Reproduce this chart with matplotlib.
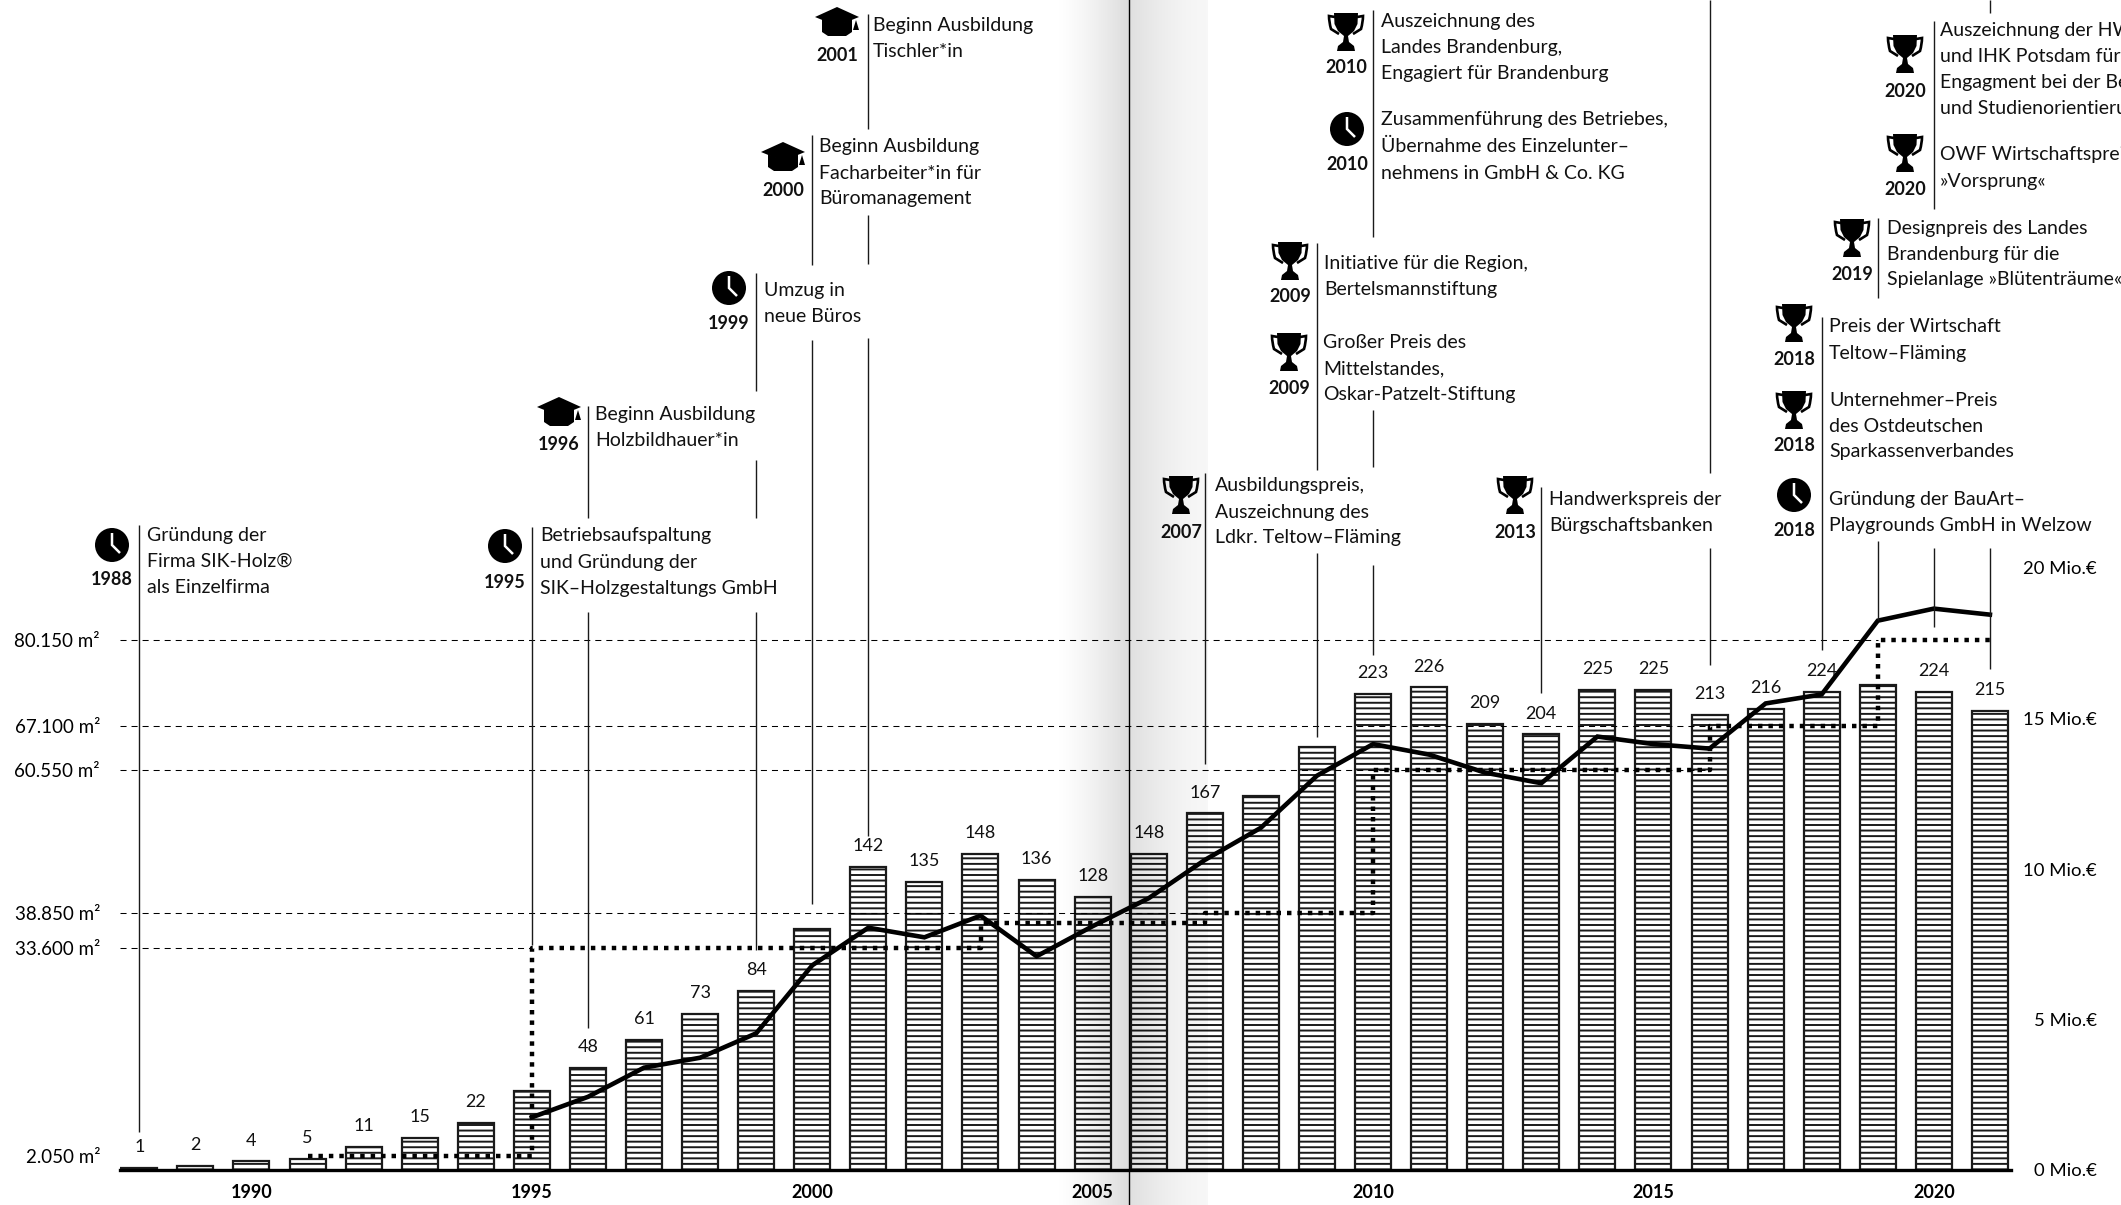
import numpy as np
import matplotlib
matplotlib.use("Agg")
import matplotlib.pyplot as plt
from matplotlib.patches import Circle, PathPatch, Polygon
from matplotlib.path import Path

W, H = 2121, 1205
DPI = 100

plt.rcParams["font.family"] = ["Lato", "DejaVu Sans"]
plt.rcParams["hatch.linewidth"] = 1.4

years = list(range(1988, 2022))
employees = [1, 2, 4, 5, 11, 15, 22, 37, 48, 61, 73, 84, 113, 142, 135, 148, 136,
             128, 148, 167, 175, 198, 223, 226, 209, 204, 225, 225, 213, 216, 224,
             227, 224, 215]
# the picture prints no number over these bars
unlabeled_years = [1995, 2000, 2008, 2009, 2019]

revenue_years = list(range(1995, 2022))
revenue = [1.75, 2.43, 3.4, 3.73, 4.54, 6.8, 8.05, 7.73, 8.45, 7.1, 8.1, 9.03, 10.3,
           11.37, 13.1, 14.15, 13.8, 13.2, 12.85, 14.4, 14.15, 14.0, 15.5, 15.8,
           18.25, 18.65, 18.45]
revenue_ticks = [0, 5, 10, 15, 20]

area_years = [1991, 1995, 2003, 2007, 2010, 2016, 2019, 2021]
area = [2050, 33600, 37400, 38850, 60550, 67100, 80150, 80150]
area_ticks = [2050, 33600, 38850, 60550, 67100, 80150]
area_tick_labels = ["2.050 m²", "33.600 m²", "38.850 m²", "60.550 m²", "67.100 m²", "80.150 m²"]
# (area value, year where the dashed guide stops)
area_guides = [(33600, 1995), (38850, 2007), (60550, 2016), (67100, 2016), (80150, 2019)]

year_ticks = [1990, 1995, 2000, 2005, 2010, 2015, 2020]

# pixel layout of the plot
X0, DX = 139.3, 56.08
BASE = 1170
LEFT, RIGHT, TOP = 120, 2011, 400
PX_EMP, PX_REV, PX_AREA = 2.135, 30.1, 0.006613


def year_px(year):
    return X0 + (year - 1988) * DX


def px_year(px):
    return 1988 + (px - X0) / DX


fig = plt.figure(figsize=(W / DPI, H / DPI), dpi=DPI, facecolor="white")
ax = fig.add_axes([LEFT / W, 1 - BASE / H, (RIGHT - LEFT) / W, (BASE - TOP) / H])
ax.set_xlim(px_year(LEFT), px_year(RIGHT))
ax.set_ylim(0, (BASE - TOP) / PX_EMP)
ax.patch.set_alpha(0)

ax.bar(years, employees, width=36 / DX, facecolor="white", edgecolor="#1a1a1a",
       linewidth=1.6, hatch="---", zorder=2)
for y, v in zip(years, employees):
    if y not in unlabeled_years:
        ax.annotate(str(v), (y, v), xytext=(0, 15), textcoords="offset points",
                    ha="center", va="center", fontsize=13, color="#111")

for side in ["top", "left", "right"]:
    ax.spines[side].set_visible(False)
ax.spines["bottom"].set_linewidth(2.4)
ax.spines["bottom"].set_zorder(5)
ax.set_yticks([])
ax.set_xticks(year_ticks)
ax.set_xticklabels([str(y) for y in year_ticks], fontweight="bold", fontsize=13)
ax.tick_params(axis="x", length=0, pad=10)

ax_area = ax.twinx()
ax_area.set_ylim(0, (BASE - TOP) / PX_AREA)
ax_area.yaxis.tick_left()
ax_area.set_yticks(area_ticks)
ax_area.set_yticklabels(area_tick_labels, fontsize=13.5)
ax_area.tick_params(axis="y", length=0, pad=14.4)
for val, end in area_guides:
    ax_area.plot([px_year(LEFT), end], [val, val], color="black", lw=0.75,
                 linestyle=(0, (5.8, 4.8)), zorder=3)
ax_area.plot(area_years, area, drawstyle="steps-post", color="black", lw=3.2,
             linestyle=(0, (1, 1.35)), dash_capstyle="butt", zorder=4)

ax_rev = ax.twinx()
ax_rev.set_ylim(0, (BASE - TOP) / PX_REV)
ax_rev.set_yticks(revenue_ticks)
ax_rev.set_yticklabels([f"{t} Mio.€" for t in revenue_ticks], fontsize=13.3, ha="right")
ax_rev.tick_params(axis="y", length=0, pad=62)
ax_rev.plot(revenue_years, revenue, color="black", lw=3.3, solid_joinstyle="miter", zorder=6)

for a in [ax_area, ax_rev]:
    for s in a.spines.values():
        s.set_visible(False)
    a.patch.set_alpha(0)

# overlay in pixel coordinates for the timeline notes
top = fig.add_axes([0, 0, 1, 1], facecolor="none")
top.set_xlim(0, W)
top.set_ylim(H, 0)
top.axis("off")


def clock(x, y):
    top.add_patch(Circle((x, y), 17, color="black", lw=0))
    top.plot([x, x, x + 8], [y - 12, y, y + 8], color="white", lw=1.8,
             solid_joinstyle="miter", solid_capstyle="butt")


def trophy(x, y):
    cup = [(-12, -19), (12, -19), (11.5, -8), (8, -1), (2, 4), (3, 10), (8, 14), (9, 19),
           (-9, 19), (-8, 14), (-3, 10), (-2, 4), (-8, -1), (-11.5, -8)]
    top.add_patch(Polygon([(x + a, y + b) for a, b in cup], closed=True, color="black", lw=0))
    for sgn in (-1, 1):
        verts = [(x + sgn * 11, y - 15), (x + sgn * 17, y - 16), (x + sgn * 17, y - 10),
                 (x + sgn * 15, y - 3), (x + sgn * 7, y + 2)]
        codes = [Path.MOVETO, Path.LINETO, Path.CURVE3, Path.CURVE3, Path.LINETO]
        top.add_patch(PathPatch(Path(verts, codes), fill=False, edgecolor="black", lw=1.9))


def hat(x, y):
    board = [(0, -15), (22, -5), (0, 4), (-22, -5)]
    cap = [(-15, -3), (0, 3), (15, -3), (15, 10), (9, 14), (-9, 14), (-15, 10)]
    tassel = [(19, -2), (22, 8), (16, 8)]
    for shape in (board, cap, tassel):
        top.add_patch(Polygon([(x + a, y + b) for a, b in shape], closed=True, color="black", lw=0))


ICONS = {"clock": clock, "trophy": trophy, "hat": hat}

# icon, year, icon x, icon y, year label y, text x, y of each line, lines
notes = [
    ("clock", 1988, 112, 545, 579, 147, [534, 560, 586],
     ["Gründung der", "Firma SIK-Holz®", "als Einzelfirma"]),
    ("clock", 1995, 505, 546, 582, 540, [534, 561, 587],
     ["Betriebsaufspaltung", "und Gründung der", "SIK–Holzgestaltungs GmbH"]),
    ("hat", 1996, 559, 412, 444, 595, [413, 439],
     ["Beginn Ausbildung", "Holzbildhauer*in"]),
    ("clock", 1999, 729, 288, 323, 764, [289, 315],
     ["Umzug in", "neue Büros"]),
    ("hat", 2000, 783, 157, 190, 819, [145, 172, 197],
     ["Beginn Ausbildung", "Facharbeiter*in für", "Büromanagement"]),
    ("hat", 2001, 837, 22, 55, 873, [24, 50],
     ["Beginn Ausbildung", "Tischler*in"]),
    ("trophy", 2007, 1181, 495, 532, 1215, [484, 511, 536],
     ["Ausbildungspreis,", "Auszeichnung des", "Ldkr. Teltow–Fläming"]),
    ("trophy", 2009, 1290, 261, 296, 1324, [262, 288],
     ["Initiative für die Region,", "Bertelsmannstiftung"]),
    ("trophy", 2009, 1289, 352, 388, 1323, [341, 367, 393],
     ["Großer Preis des", "Mittelstandes,", "Oskar-Patzelt-Stiftung"]),
    ("trophy", 2010, 1346, 32, 67, 1381, [20, 46, 72],
     ["Auszeichnung des", "Landes Brandenburg,", "Engagiert für Brandenburg"]),
    ("clock", 2010, 1347, 129, 164, 1381, [118, 145, 172],
     ["Zusammenführung des Betriebes,", "Übernahme des Einzelunter–", "nehmens in GmbH & Co. KG"]),
    ("trophy", 2013, 1515, 495, 532, 1549, [498, 524],
     ["Handwerkspreis der", "Bürgschaftsbanken"]),
    ("clock", 2018, 1794, 495, 530, 1829, [498, 524],
     ["Gründung der BauArt–", "Playgrounds GmbH in Welzow"]),
    ("trophy", 2018, 1794, 410, 445, 1829, [399, 425, 450],
     ["Unternehmer–Preis", "des Ostdeutschen", "Sparkassenverbandes"]),
    ("trophy", 2018, 1794, 323, 359, 1829, [325, 352],
     ["Preis der Wirtschaft", "Teltow–Fläming"]),
    ("trophy", 2019, 1852, 238, 274, 1887, [227, 253, 278],
     ["Designpreis des Landes", "Brandenburg für die", "Spielanlage »Blütenträume«"]),
    ("trophy", 2020, 1905, 54, 91, 1940, [29, 55, 81, 107],
     ["Auszeichnung der HWK", "und IHK Potsdam für", "Engagment bei der Berufs-", "und Studienorientierung"]),
    ("trophy", 2020, 1905, 153, 189, 1940, [153, 180],
     ["OWF Wirtschaftspreis", "»Vorsprung«"]),
]

# leader line pieces per year, gaps leave room for the notes
leaders = {
    1988: [(525, 1132)],
    1995: [(527, 945)],
    1996: [(406, 518), (612, 1028)],
    1999: [(273, 391), (460, 518), (612, 950)],
    2000: [(135, 265), (340, 904)],
    2001: [(14, 129), (215, 264), (338, 836)],
    2007: [(473, 764)],
    2009: [(243, 470), (553, 737)],
    2010: [(10, 237), (410, 467), (565, 655)],
    2013: [(487, 693)],
    2016: [(0, 473), (548, 665)],
    2018: [(317, 650)],
    2019: [(218, 298), (541, 620)],
    2020: [(21, 209), (548, 627)],
    2021: [(0, 13), (548, 669)],
}
for yr, pieces in leaders.items():
    for y0, y1 in pieces:
        top.plot([year_px(yr)] * 2, [y0, y1], color="#1a1a1a", lw=1.0, solid_capstyle="butt")

for icon, yr, ix, iy, ly, tx, tys, lines in notes:
    ICONS[icon](ix, iy)
    top.text(ix, ly + 6, str(yr), ha="center", va="baseline", fontsize=13, fontweight="bold", color="#111")
    for ty, line in zip(tys, lines):
        top.text(tx, ty + 7, line, ha="left", va="baseline", fontsize=14, color="#111")

# page fold: soft shadow left and right of the gutter, laid over everything
xs = np.arange(1053, 1208)
alpha = np.zeros(xs.size)
left_part = xs < 1128
alpha[left_part] = 0.14 * ((xs[left_part] - 1053) / 75) ** 1.4
right_t = (xs[~left_part] - 1128) / 80
alpha[~left_part] = 0.035 + 0.095 * (1 - right_t) ** 1.6
rgba = np.zeros((1, xs.size, 4))
rgba[0, :, 3] = alpha
top.imshow(rgba, extent=(1053, 1208, H, 0), aspect="auto", interpolation="nearest", zorder=10)
top.set_xlim(0, W)
top.set_ylim(H, 0)
top.plot([1128.5, 1128.5], [0, H], color="black", lw=1.0, zorder=11)

fig.savefig("out.png", dpi=DPI)
